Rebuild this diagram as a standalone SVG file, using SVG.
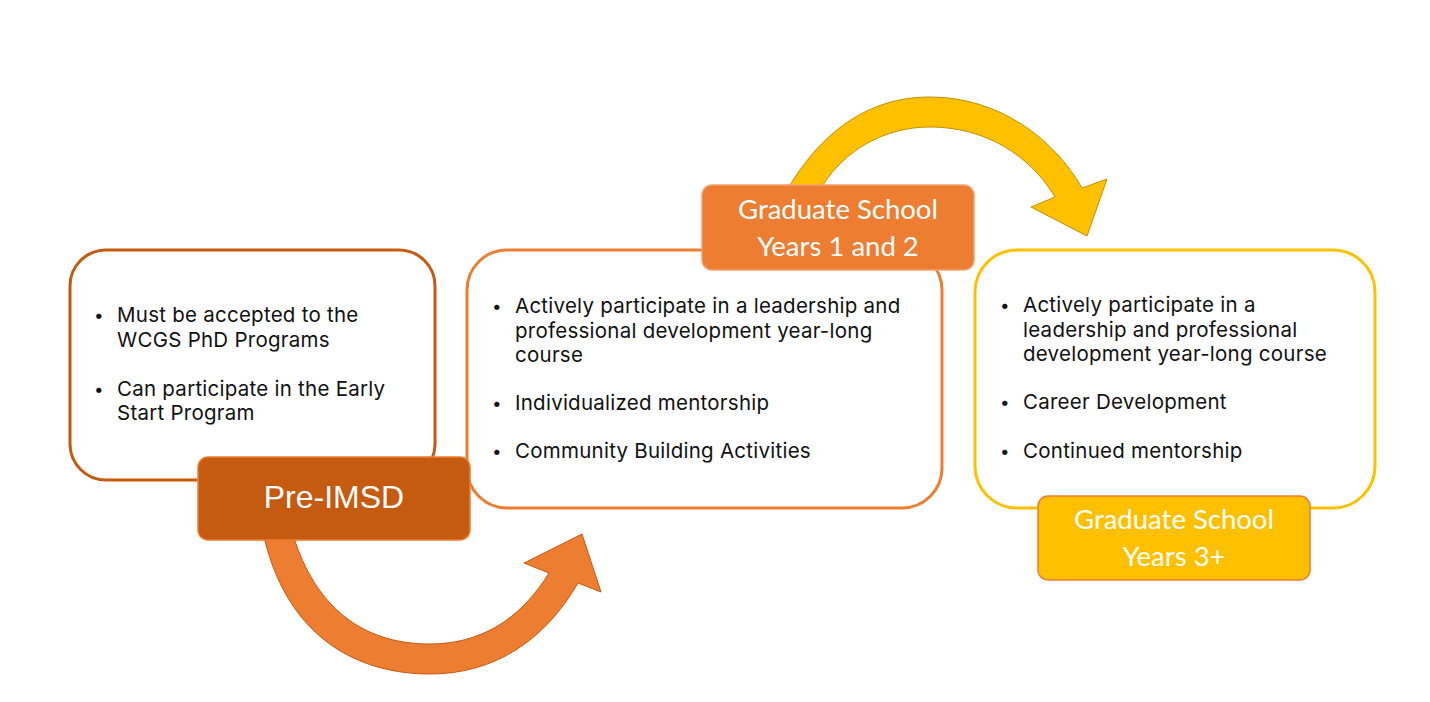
<svg xmlns="http://www.w3.org/2000/svg" width="1430" height="702" viewBox="0 0 1430 702">
<style>
.box{fill:#FFFFFF;stroke-width:3}
.lbl{stroke-width:1.5}
.bt{font-family:Inter,"Liberation Sans",sans-serif;font-size:20.5px;letter-spacing:0.25px;fill:#111111}
.bl{font-family:Inter,"Liberation Sans",sans-serif;font-size:17px;fill:#111111}
.lt{font-family:Lato,"Open Sans",sans-serif;font-size:27.5px;fill:#FFFFFF;text-anchor:middle}
.pt{font-family:"Liberation Sans",Arial,sans-serif;font-size:32px;fill:#FFFFFF;text-anchor:middle}
</style>
<rect width="1430" height="702" fill="#FFFFFF"/>
<g id="connectors">
<path id="arrow-pre-to-grad12" d="M262,528 L265,541 C290,640 360,674 430,674 C495,674 545,640 578,583 L601,592 L582,534 L524,563 L549,573 C520,620 480,644 430,644 C370,644 320,615 295,541 L292,528 Z" fill="#ED7D31" stroke="#C55A11" stroke-width="1"/>
<path id="arrow-grad12-to-grad3" d="M784,195 L790,185 C830,120 880,97 930,97 C1000,97 1055,140 1082,188 L1107,179 L1087,236 L1031,207 L1055,197 C1030,155 985,127 930,127 C885,127 845,150 823,185 L817,195 Z" fill="#FFC000" stroke="#BF9000" stroke-width="1"/>
</g>
<g id="stage-pre-imsd">
<rect class="box" x="70" y="250" width="365" height="230" rx="36" stroke="#C55A11"/>
<text class="bl" x="94" y="321">•</text>
<text class="bt" x="117" y="322">Must be accepted to the</text>
<text class="bt" x="117" y="347">WCGS PhD Programs</text>
<text class="bl" x="94" y="395">•</text>
<text class="bt" x="117" y="396">Can participate in the Early</text>
<text class="bt" x="117" y="420">Start Program</text>
</g>
<g id="stage-grad-1-2">
<rect class="box" x="467" y="250" width="475" height="258" rx="40" stroke="#ED7D31"/>
<text class="bl" x="492" y="312">•</text>
<text class="bt" x="515" y="313">Actively participate in a leadership and</text>
<text class="bt" x="515" y="338">professional development year-long</text>
<text class="bt" x="515" y="362">course</text>
<text class="bl" x="492" y="409">•</text>
<text class="bt" x="515" y="410">Individualized mentorship</text>
<text class="bl" x="492" y="457">•</text>
<text class="bt" x="515" y="458">Community Building Activities</text>
</g>
<g id="stage-grad-3">
<rect class="box" x="975" y="250" width="400" height="258" rx="42" stroke="#FFC000"/>
<text class="bl" x="1000" y="311">•</text>
<text class="bt" x="1023" y="312">Actively participate in a</text>
<text class="bt" x="1023" y="337">leadership and professional</text>
<text class="bt" x="1023" y="361">development year-long course</text>
<text class="bl" x="1000" y="408">•</text>
<text class="bt" x="1023" y="409">Career Development</text>
<text class="bl" x="1000" y="457">•</text>
<text class="bt" x="1023" y="458">Continued mentorship</text>
</g>
<g id="label-pre-imsd">
<rect class="lbl" x="198" y="457" width="272" height="83" rx="10" fill="#C55A11" stroke="#ED7D31"/>
<text class="pt" x="334" y="508">Pre-IMSD</text>
</g>
<g id="label-grad-1-2">
<rect class="lbl" x="702" y="185" width="272" height="85" rx="10" fill="#ED7D31" stroke="#F4A070"/>
<text class="lt" x="838" y="219">Graduate School</text>
<text class="lt" x="838" y="256">Years 1 and 2</text>
</g>
<g id="label-grad-3">
<rect class="lbl" x="1038" y="496" width="272" height="84" rx="10" fill="#FFC000" stroke="#ED7D31"/>
<text class="lt" x="1174" y="529">Graduate School</text>
<text class="lt" x="1174" y="566">Years 3+</text>
</g>
</svg>
